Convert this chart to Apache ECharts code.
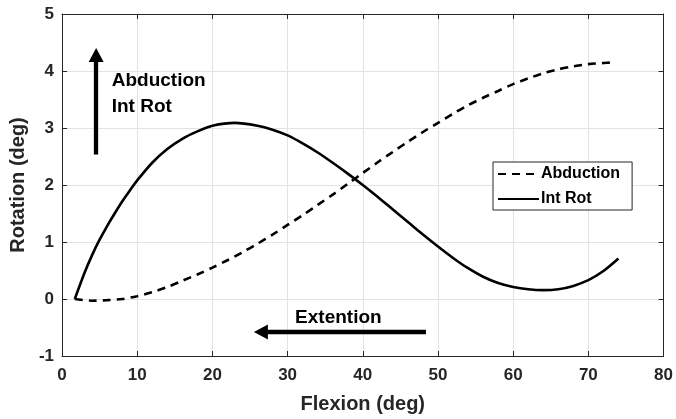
<!DOCTYPE html>
<html>
<head>
<meta charset="utf-8">
<script src="https://cdn.jsdelivr.net/npm/echarts@6/dist/echarts.min.js"></script>
<style>
html,body{margin:0;padding:0;background:#fff;}
#chart{width:676px;height:419px;}
</style>
</head>
<body>
<div id="chart"></div>
<script>
// ---- data ----
var flexAbd = [1.7, 4, 6, 8, 10, 12, 14, 16, 18, 20, 22, 24, 26, 28, 30, 32, 34, 36, 38, 40, 42, 44, 46, 48, 50, 52, 54, 56, 58, 60, 62, 64, 66, 68, 70, 72, 73.3];
var abduction = [0, -0.03, -0.02, 0.0, 0.05, 0.12, 0.21, 0.32, 0.43, 0.55, 0.68, 0.82, 0.97, 1.13, 1.30, 1.47, 1.65, 1.83, 2.02, 2.21, 2.40, 2.58, 2.76, 2.93, 3.09, 3.25, 3.40, 3.53, 3.65, 3.77, 3.87, 3.96, 4.03, 4.08, 4.12, 4.14, 4.15];

var flexRot = [1.7, 3, 4, 5, 6, 7, 8, 9, 10, 12, 14, 16, 18, 20, 23, 26, 28, 30, 32, 34, 36, 38, 40, 42, 44, 46, 48, 50, 52, 54, 56, 58, 60, 62, 64, 66, 68, 70, 72, 74];
var intRot = [0, 0.46, 0.77, 1.04, 1.28, 1.50, 1.71, 1.90, 2.08, 2.39, 2.63, 2.81, 2.94, 3.04, 3.09, 3.04, 2.97, 2.87, 2.73, 2.57, 2.39, 2.20, 2.00, 1.79, 1.57, 1.35, 1.13, 0.92, 0.72, 0.54, 0.39, 0.28, 0.21, 0.17, 0.155, 0.17, 0.23, 0.33, 0.49, 0.71];

var seriesNames = ['Abduction', 'Int Rot'];
var xTicks = {min: 0, max: 80, interval: 10};
var yTicks = {min: -1, max: 5, interval: 1};

// annotation anchors (data coordinates)
var arrowUp = [[4.54, 2.535], [4.54, 4.28]];
var arrowLeft = [[48.4, -0.58], [26.45, -0.58]];
var noteUp = {x: 6.61, y: 3.60, text: 'Abduction\nInt Rot'};
var noteLeft = {x: 31.0, y: -0.33, text: 'Extention'};

function pairs(xs, ys) { return xs.map(function (x, i) { return [x, ys[i]]; }); }

var FONT = '"Liberation Sans", Arial, sans-serif';
var TXT = '#262626';
var chart = echarts.init(document.getElementById('chart'));

function baseX(pos, show) {
  return {
    type: 'value', position: pos, min: xTicks.min, max: xTicks.max, interval: xTicks.interval,
    axisLine: {show: true, onZero: false, lineStyle: {color: TXT, width: 1}},
    axisTick: {show: true, inside: true, length: 5, lineStyle: {color: TXT}},
    axisLabel: {show: show, color: TXT, fontFamily: FONT, fontWeight: 'bold', fontSize: 17, margin: 11},
    splitLine: {show: show, lineStyle: {color: '#e3e3e3', width: 1}}
  };
}
function baseY(pos, show) {
  return {
    type: 'value', position: pos, min: yTicks.min, max: yTicks.max, interval: yTicks.interval,
    axisLine: {show: true, onZero: false, lineStyle: {color: TXT, width: 1}},
    axisTick: {show: true, inside: true, length: 5, lineStyle: {color: TXT}},
    axisLabel: {show: show, color: TXT, fontFamily: FONT, fontWeight: 'bold', fontSize: 17, margin: 8},
    splitLine: {show: show, lineStyle: {color: '#e3e3e3', width: 1}}
  };
}

var xMain = baseX('bottom', true);
xMain.name = 'Flexion (deg)';
xMain.nameLocation = 'middle';
xMain.nameGap = 38;
xMain.nameTextStyle = {color: TXT, fontFamily: FONT, fontWeight: 'bold', fontSize: 20};
var yMain = baseY('left', true);
yMain.name = 'Rotation (deg)';
yMain.nameLocation = 'middle';
yMain.nameGap = 25;
yMain.nameTextStyle = {color: TXT, fontFamily: FONT, fontWeight: 'bold', fontSize: 20};

var annoLabel = {color: '#000', fontFamily: FONT, fontWeight: 'bold', fontSize: 19, lineHeight: 26};

chart.setOption({
  animation: false,
  backgroundColor: '#fff',
  grid: {left: 59, right: 12, top: 14, bottom: 62},
  xAxis: [xMain, baseX('top', false)],
  yAxis: [yMain, baseY('right', false)],
  legend: {
    orient: 'vertical', left: 493, top: 162,
    data: seriesNames,
    itemWidth: 41, itemHeight: 14, itemGap: 9,
    padding: [4, 12, 3, 4],
    borderColor: TXT, borderWidth: 1, backgroundColor: '#fff',
    itemStyle: {opacity: 0},
    textStyle: {color: '#000', fontFamily: FONT, fontWeight: 'bold', fontSize: 16, padding: [0, 0, 0, -3]}
  },
  series: [
    {
      name: seriesNames[0], type: 'line', data: pairs(flexAbd, abduction),
      smooth: 0.3, showSymbol: false, symbol: 'none',
      lineStyle: {color: '#000', width: 2.6, type: [8, 6]},
      itemStyle: {color: '#000'}
    },
    {
      name: seriesNames[1], type: 'line', data: pairs(flexRot, intRot),
      smooth: 0.3, showSymbol: false, symbol: 'none',
      lineStyle: {color: '#000', width: 2.6, type: 'solid'},
      itemStyle: {color: '#000'},
      markLine: {
        silent: true, animation: false,
        symbol: ['none', 'triangle'], symbolSize: [15, 14],
        label: {show: false},
        lineStyle: {color: '#000', width: 4.3, type: 'solid'},
        data: [
          [{coord: arrowUp[0]}, {coord: arrowUp[1]}],
          [{coord: arrowLeft[0]}, {coord: arrowLeft[1]}]
        ]
      },
      markPoint: {
        silent: true, animation: false, symbol: 'circle', symbolSize: 0,
        data: [
          {coord: [noteUp.x, noteUp.y], label: Object.assign({show: true, position: 'right', distance: 0, formatter: noteUp.text, align: 'left'}, annoLabel)},
          {coord: [noteLeft.x, noteLeft.y], label: Object.assign({show: true, position: 'right', distance: 0, formatter: noteLeft.text, align: 'left'}, annoLabel)}
        ]
      }
    }
  ]
});
</script>
</body>
</html>
